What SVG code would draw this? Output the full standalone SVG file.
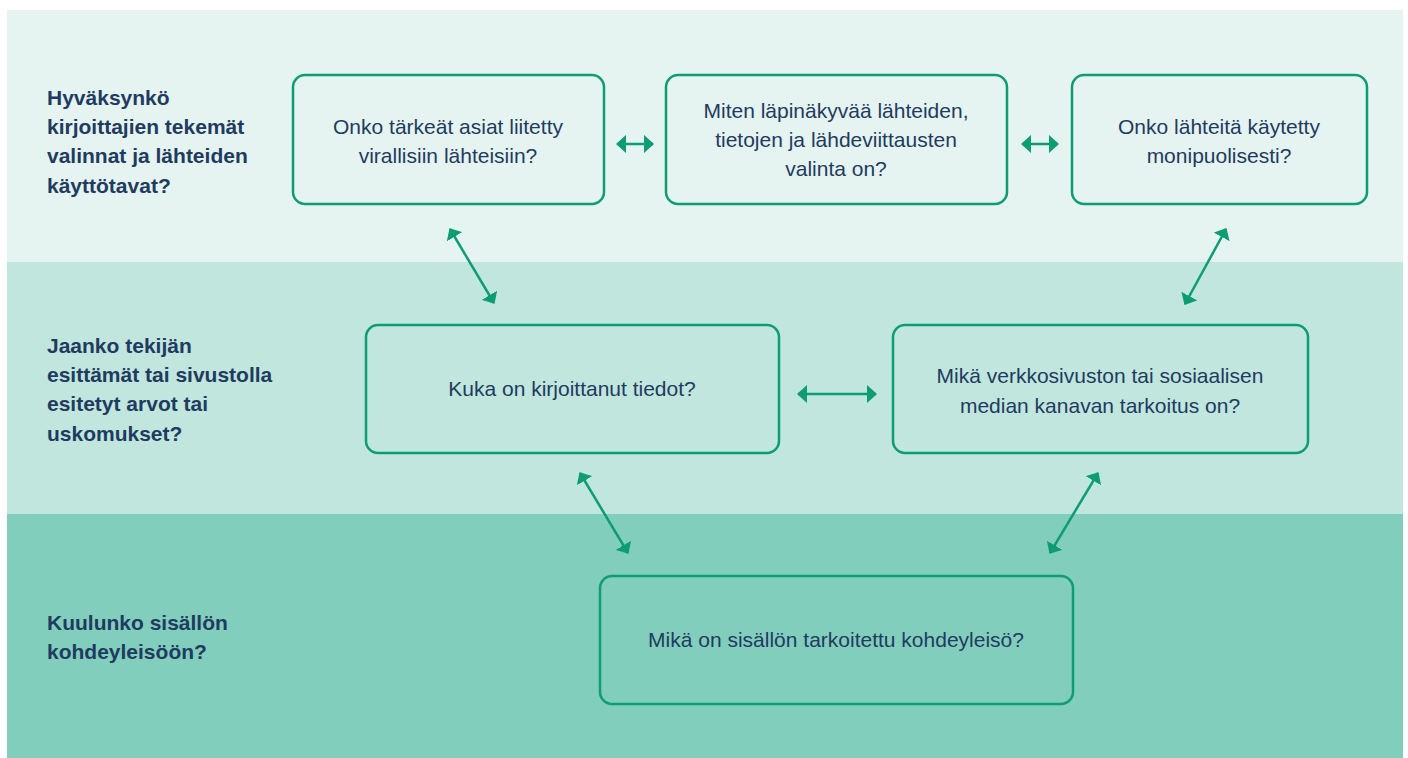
<svg xmlns="http://www.w3.org/2000/svg" width="1408" height="758" viewBox="0 0 1408 758">
<defs>
<marker id="ah" viewBox="0 0 10 18" refX="9" refY="9" markerWidth="10" markerHeight="18" orient="auto-start-reverse" markerUnits="userSpaceOnUse">
<path d="M0,0 L10,9 L0,18 z" fill="#0e9c74"/>
</marker>
<style>
.box{fill:none;stroke:#0e9c74;stroke-width:2.5}
.bt{font-family:"Liberation Sans",Arial,sans-serif;font-size:21px;fill:#1f3b60;text-anchor:middle}
.lt{font-family:"Liberation Sans",Arial,sans-serif;font-size:21px;font-weight:bold;fill:#1f3b60}
.con{stroke:#0e9c74;stroke-width:2.5;fill:none;marker-start:url(#ah);marker-end:url(#ah)}
</style>
</defs>
<rect x="0" y="0" width="1408" height="758" fill="#ffffff"/>
<g id="bands">
<rect x="7" y="10" width="1396" height="252" fill="#e5f4f1"/>
<rect x="7" y="262" width="1396" height="252" fill="#c0e6dd"/>
<rect x="7" y="514" width="1396" height="244" fill="#82cebd"/>
</g>
<g id="labels">
<text class="lt" x="47" y="105">Hyväksynkö</text>
<text class="lt" x="47" y="134">kirjoittajien tekemät</text>
<text class="lt" x="47" y="163">valinnat ja lähteiden</text>
<text class="lt" x="47" y="193">käyttötavat?</text>
<text class="lt" x="47" y="353">Jaanko tekijän</text>
<text class="lt" x="47" y="382">esittämät tai sivustolla</text>
<text class="lt" x="47" y="411">esitetyt arvot tai</text>
<text class="lt" x="47" y="441">uskomukset?</text>
<text class="lt" x="47" y="630">Kuulunko sisällön</text>
<text class="lt" x="47" y="659">kohdeyleisöön?</text>
</g>
<g id="n1">
<rect class="box" x="293" y="75" width="311" height="129" rx="12"/>
<text class="bt" x="448" y="134">Onko tärkeät asiat liitetty</text>
<text class="bt" x="448" y="163">virallisiin lähteisiin?</text>
</g>
<g id="n2">
<rect class="box" x="666" y="75" width="341" height="129" rx="12"/>
<text class="bt" x="836" y="118">Miten läpinäkyvää lähteiden,</text>
<text class="bt" x="836" y="147">tietojen ja lähdeviittausten</text>
<text class="bt" x="836" y="176">valinta on?</text>
</g>
<g id="n3">
<rect class="box" x="1072" y="75" width="295" height="129" rx="12"/>
<text class="bt" x="1219" y="134">Onko lähteitä käytetty</text>
<text class="bt" x="1219" y="163">monipuolisesti?</text>
</g>
<g id="n4">
<rect class="box" x="366" y="325" width="413" height="128" rx="12"/>
<text class="bt" x="572" y="396">Kuka on kirjoittanut tiedot?</text>
</g>
<g id="n5">
<rect class="box" x="893" y="325" width="415" height="128" rx="12"/>
<text class="bt" x="1100" y="383">Mikä verkkosivuston tai sosiaalisen</text>
<text class="bt" x="1100" y="413">median kanavan tarkoitus on?</text>
</g>
<g id="n6">
<rect class="box" x="600" y="576" width="473" height="128" rx="12"/>
<text class="bt" x="836" y="647">Mikä on sisällön tarkoitettu kohdeyleisö?</text>
</g>
<g id="connectors">
<line class="con" x1="617" y1="144" x2="653" y2="144"/>
<line class="con" x1="1022" y1="144" x2="1058" y2="144"/>
<line class="con" x1="798" y1="394" x2="876" y2="394"/>
<line class="con" x1="450" y1="229" x2="494" y2="303"/>
<line class="con" x1="1226" y1="229" x2="1185" y2="304"/>
<line class="con" x1="580" y1="473" x2="628" y2="553"/>
<line class="con" x1="1098" y1="473" x2="1050" y2="553"/>
</g>
</svg>
